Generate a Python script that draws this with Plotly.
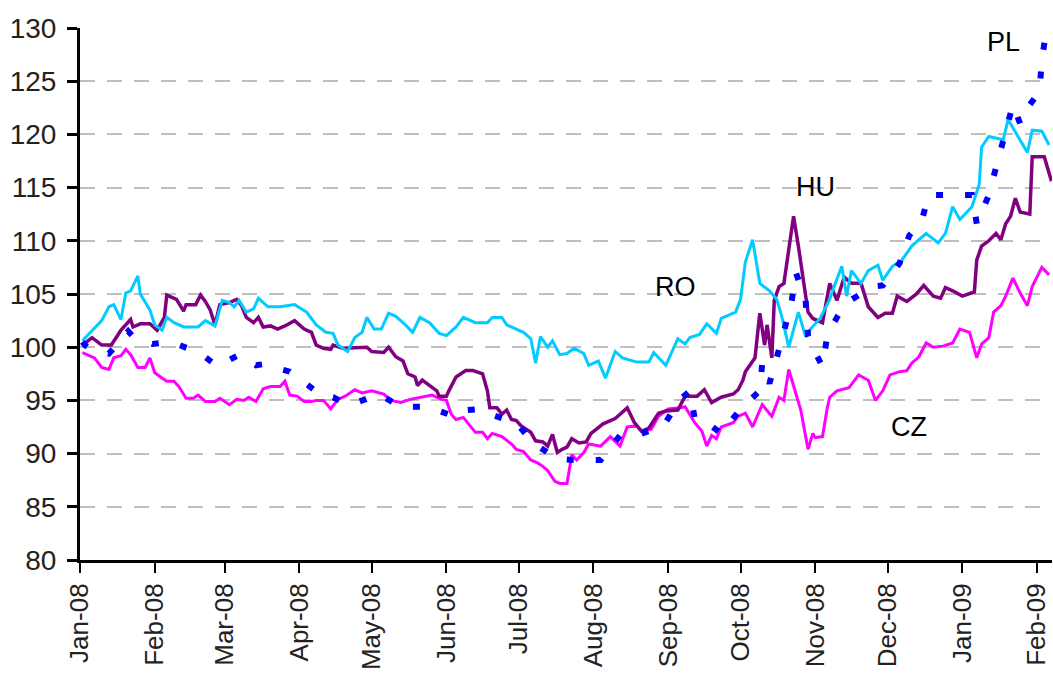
import plotly.graph_objects as go

# ---------------- data ----------------
ro_dates = ["2008-01-02","2008-01-10","2008-01-13","2008-01-15","2008-01-18","2008-01-20","2008-01-22","2008-01-25","2008-01-26","2008-01-30",
            "2008-02-01","2008-02-04","2008-02-06","2008-02-09","2008-02-13","2008-02-19","2008-02-22","2008-02-26","2008-02-29",
            "2008-03-03","2008-03-05","2008-03-07","2008-03-10","2008-03-13","2008-03-15","2008-03-19","2008-03-24","2008-03-30",
            "2008-04-04","2008-04-08","2008-04-12","2008-04-15","2008-04-17","2008-04-21","2008-04-24","2008-04-27","2008-04-29",
            "2008-05-02","2008-05-05","2008-05-08","2008-05-11","2008-05-15","2008-05-18","2008-05-21","2008-05-25","2008-05-29",
            "2008-06-01","2008-06-05","2008-06-08","2008-06-13","2008-06-18","2008-06-20","2008-06-24","2008-06-26","2008-06-29",
            "2008-07-03","2008-07-06","2008-07-08","2008-07-10","2008-07-13","2008-07-15","2008-07-18","2008-07-21","2008-07-24","2008-07-28","2008-07-30",
            "2008-08-03","2008-08-06","2008-08-10","2008-08-13","2008-08-19","2008-08-24","2008-08-26","2008-08-31",
            "2008-09-05","2008-09-08","2008-09-10","2008-09-14","2008-09-17","2008-09-21","2008-09-23","2008-09-29",
            "2008-10-01","2008-10-03","2008-10-06","2008-10-09","2008-10-13","2008-10-16","2008-10-18","2008-10-21","2008-10-25","2008-10-28","2008-10-30",
            "2008-11-03","2008-11-07","2008-11-08","2008-11-12","2008-11-14","2008-11-16","2008-11-20","2008-11-23","2008-11-27","2008-11-29",
            "2008-12-03","2008-12-07","2008-12-11","2008-12-17","2008-12-22","2008-12-25","2008-12-28","2008-12-31",
            "2009-01-05","2009-01-08","2009-01-09","2009-01-12","2009-01-18","2009-01-20","2009-01-23","2009-01-28","2009-01-30","2009-02-03","2009-02-06"]
ro_values = [100.6,102.5,103.8,104.0,102.6,105.1,105.3,106.7,105.0,103.5,
             102.1,101.6,102.8,102.3,101.9,101.9,102.5,102.0,104.4,
             104.2,103.8,104.4,103.3,103.6,104.6,103.8,103.8,104.0,
             103.3,102.1,101.4,101.3,100.2,99.6,100.9,101.4,102.8,
             101.7,101.7,103.2,102.9,102.1,101.4,102.8,102.3,101.3,
             101.1,101.9,102.8,102.3,102.3,102.8,102.8,102.1,101.8,
             101.4,100.8,98.5,101.0,100.0,100.6,99.3,99.4,99.9,99.4,98.3,
             98.7,97.1,99.6,99.0,98.6,98.6,99.5,98.3,
             100.8,100.3,100.9,101.2,102.2,101.3,102.7,103.3,
             104.5,108.0,110.1,106.0,105.3,104.5,103.0,100.0,103.3,101.0,101.7,
             102.7,104.5,105.2,107.6,104.8,107.2,106.0,107.2,107.7,106.3,
             107.6,108.2,109.5,110.7,109.8,110.7,113.2,112.0,
             113.2,115.3,118.8,119.8,119.5,121.4,120.2,118.3,120.4,120.3,119.0]

hu_dates = ["2008-01-02","2008-01-06","2008-01-10","2008-01-14","2008-01-18","2008-01-22","2008-01-23","2008-01-26","2008-01-30",
            "2008-02-02","2008-02-05","2008-02-06","2008-02-10","2008-02-13","2008-02-14","2008-02-18","2008-02-20","2008-02-22","2008-02-24","2008-02-26","2008-02-28",
            "2008-03-03","2008-03-06","2008-03-08","2008-03-10","2008-03-13","2008-03-15","2008-03-17","2008-03-20","2008-03-23","2008-03-26","2008-03-30",
            "2008-04-03","2008-04-06","2008-04-08","2008-04-11","2008-04-14","2008-04-15","2008-04-19","2008-04-25","2008-04-29",
            "2008-05-01","2008-05-06","2008-05-08","2008-05-11","2008-05-14","2008-05-16","2008-05-19","2008-05-20","2008-05-22","2008-05-25","2008-05-28","2008-05-29",
            "2008-06-01","2008-06-02","2008-06-05","2008-06-09","2008-06-12","2008-06-16","2008-06-18","2008-06-19","2008-06-22","2008-06-24","2008-06-26","2008-06-28","2008-06-30",
            "2008-07-02","2008-07-06","2008-07-08","2008-07-11","2008-07-13","2008-07-15","2008-07-17","2008-07-19","2008-07-21","2008-07-23","2008-07-26","2008-07-29","2008-07-31",
            "2008-08-05","2008-08-10","2008-08-15","2008-08-18","2008-08-21","2008-08-24","2008-08-28","2008-08-31",
            "2008-09-05","2008-09-08","2008-09-13","2008-09-16","2008-09-19","2008-09-23","2008-09-28","2008-09-30",
            "2008-10-02","2008-10-03","2008-10-07","2008-10-09","2008-10-11","2008-10-12","2008-10-14","2008-10-15","2008-10-17","2008-10-19","2008-10-23","2008-10-25","2008-10-27","2008-10-29","2008-10-31",
            "2008-11-04","2008-11-07","2008-11-10","2008-11-13","2008-11-16","2008-11-20","2008-11-23","2008-11-27","2008-11-30",
            "2008-12-03","2008-12-05","2008-12-09","2008-12-13","2008-12-16","2008-12-20","2008-12-23","2008-12-25","2008-12-28",
            "2009-01-01","2009-01-06","2009-01-07","2009-01-09","2009-01-12","2009-01-15","2009-01-17","2009-01-19","2009-01-21","2009-01-23","2009-01-25","2009-01-29","2009-01-30",
            "2009-02-01","2009-02-04","2009-02-07"]
hu_values = [100.2,100.9,100.2,100.2,101.6,102.6,101.9,102.2,102.2,
             101.6,102.8,104.9,104.5,103.4,104.0,104.0,104.9,104.3,103.5,102.1,104.0,
             104.2,104.5,103.9,102.8,102.3,102.8,101.9,102.0,101.7,102.0,102.5,
             101.7,101.4,100.2,99.9,99.8,100.2,99.9,100.0,100.0,
             99.6,99.5,100.0,99.1,98.7,97.5,97.2,96.4,96.9,96.4,95.9,95.4,
             95.4,95.9,97.2,97.8,97.8,97.5,95.9,94.3,94.3,93.7,94.1,93.2,93.1,
             92.6,92.0,91.2,91.1,90.7,91.8,90.1,90.4,90.6,91.4,91.0,91.1,91.9,
             92.8,93.3,94.3,92.9,92.1,92.4,93.8,94.0,
             94.1,95.4,95.4,96.0,94.8,95.3,95.6,96.0,
             96.9,97.7,99.0,103.2,100.2,102.1,99.0,104.4,105.7,106.0,112.3,109.5,106.6,103.3,102.7,
             102.3,106.0,104.4,106.6,106.0,106.0,103.8,102.8,103.2,
             103.2,104.8,104.3,105.0,105.8,104.8,104.6,105.6,105.3,
             104.8,105.2,108.2,109.5,110.0,110.7,110.1,111.6,112.3,114.0,112.7,112.5,117.9,
             117.9,117.9,115.6]

cz_dates = ["2008-01-02","2008-01-04","2008-01-07","2008-01-10","2008-01-13","2008-01-15","2008-01-18","2008-01-20","2008-01-22","2008-01-25","2008-01-28","2008-01-30",
            "2008-02-01","2008-02-04","2008-02-06","2008-02-09","2008-02-11","2008-02-14","2008-02-17","2008-02-19","2008-02-22","2008-02-26","2008-02-28",
            "2008-03-03","2008-03-06","2008-03-09","2008-03-11","2008-03-14","2008-03-17","2008-03-20","2008-03-24","2008-03-26","2008-03-28","2008-03-31",
            "2008-04-03","2008-04-06","2008-04-08","2008-04-11","2008-04-14","2008-04-17","2008-04-20","2008-04-24","2008-04-27",
            "2008-05-01","2008-05-06","2008-05-09","2008-05-13","2008-05-17","2008-05-21","2008-05-26","2008-05-30",
            "2008-06-01","2008-06-03","2008-06-05","2008-06-08","2008-06-10","2008-06-13","2008-06-16","2008-06-18","2008-06-20","2008-06-24","2008-06-28","2008-06-30",
            "2008-07-03","2008-07-06","2008-07-09","2008-07-11","2008-07-13","2008-07-16","2008-07-18","2008-07-21","2008-07-22","2008-07-23","2008-07-25","2008-07-28","2008-07-30",
            "2008-08-04","2008-08-08","2008-08-12","2008-08-15","2008-08-19","2008-08-21","2008-08-25","2008-08-28",
            "2008-09-01","2008-09-06","2008-09-08","2008-09-12","2008-09-15","2008-09-17","2008-09-19","2008-09-21","2008-09-23","2008-09-28","2008-09-30",
            "2008-10-03","2008-10-06","2008-10-10","2008-10-12","2008-10-14","2008-10-17","2008-10-19","2008-10-21","2008-10-23","2008-10-26","2008-10-29","2008-10-31",
            "2008-11-01","2008-11-04","2008-11-06","2008-11-07","2008-11-10","2008-11-15","2008-11-19","2008-11-23","2008-11-26","2008-11-29",
            "2008-12-02","2008-12-06","2008-12-09","2008-12-11","2008-12-14","2008-12-17","2008-12-20","2008-12-24","2008-12-28","2008-12-31",
            "2009-01-04","2009-01-07","2009-01-09","2009-01-12","2009-01-14","2009-01-17","2009-01-19","2009-01-22","2009-01-25","2009-01-28","2009-01-30","2009-02-03","2009-02-06"]
cz_values = [99.5,99.3,99.0,98.1,97.9,99.0,99.2,99.8,99.3,98.1,98.1,99.0,
             97.6,97.1,96.8,96.8,96.3,95.2,95.2,95.5,94.9,94.9,95.2,
             94.6,95.1,95.0,95.3,94.9,96.1,96.3,96.3,96.8,95.5,95.4,
             94.9,94.9,95.0,95.0,94.2,95.1,95.4,96.0,95.7,
             95.9,95.6,95.0,94.8,95.1,95.3,95.5,95.1,
             95.0,93.7,93.2,93.4,92.8,92.0,92.0,91.4,91.9,91.6,90.9,90.4,
             90.2,89.4,89.1,88.8,88.4,87.4,87.2,87.2,88.5,89.9,89.4,90.1,90.9,
             90.7,91.6,90.7,92.5,92.6,92.1,92.3,93.5,
             94.2,94.3,94.4,92.9,92.1,90.7,91.7,91.4,92.5,92.9,93.5,
             93.8,92.5,94.6,94.0,93.5,95.3,95.0,97.9,96.3,94.1,90.4,91.9,
             91.5,91.6,94.3,95.3,95.9,96.2,97.4,96.9,95.0,95.9,
             97.4,97.7,97.8,98.5,99.1,100.4,100.0,100.1,100.4,101.7,
             101.4,99.0,100.3,100.9,103.3,103.9,104.8,106.5,105.1,103.9,105.7,107.5,106.8]

pl_dates = ["2008-01-02","2008-01-03","2008-01-07","2008-01-13","2008-01-21","2008-01-23","2008-01-31",
            "2008-02-08","2008-02-20","2008-02-27","2008-03-07","2008-03-14","2008-03-17","2008-03-28",
            "2008-04-10","2008-04-15","2008-04-21","2008-04-26","2008-05-04","2008-05-13","2008-05-24",
            "2008-06-03","2008-06-05","2008-06-15","2008-06-19","2008-06-27","2008-06-30",
            "2008-07-07","2008-07-09","2008-07-17","2008-07-24","2008-08-04","2008-08-12","2008-08-20","2008-08-30",
            "2008-09-06","2008-09-10","2008-09-12","2008-09-16","2008-09-23",
            "2008-10-01","2008-10-09","2008-10-10","2008-10-13","2008-10-16","2008-10-22","2008-10-24","2008-10-28","2008-10-29","2008-10-31",
            "2008-11-04","2008-11-06","2008-11-10","2008-11-14","2008-11-25","2008-11-29",
            "2008-12-06","2008-12-10","2008-12-15","2008-12-18","2008-12-26",
            "2009-01-05","2009-01-07","2009-01-12","2009-01-15","2009-01-22","2009-01-25","2009-01-29",
            "2009-02-02","2009-02-03","2009-02-05"]
pl_values = [100.5,100.2,99.6,99.4,101.5,101.0,100.3,
             100.5,99.4,98.2,99.3,98.3,98.4,97.7,
             95.5,95.3,94.6,94.9,95.6,94.4,94.4,
             93.6,94.0,94.2,93.7,93.1,92.9,
             91.0,90.7,89.5,89.4,89.4,91.7,91.8,92.6,
             95.1,95.9,93.3,93.1,91.9,
             94.2,95.9,98.5,96.6,99.0,104.0,107.0,104.4,101.1,99.9,
             98.2,101.1,102.8,104.2,105.7,105.8,
             107.9,110.5,111.7,114.3,114.3,
             114.3,111.6,114.3,116.9,122.8,121.0,122.8,
             124.0,127.0,130.0]

y_ticks = [80, 85, 90, 95, 100, 105, 110, 115, 120, 125, 130]
labels = ["RO", "HU", "PL", "CZ"]
label_dates = ["2008-09-04", "2008-11-01", "2009-01-18", "2008-12-10"]
label_values = [105.65, 115.05, 128.7, 92.5]

# ---------------- figure ----------------
FONT = "Liberation Sans, Arial, sans-serif"
fig = go.Figure()
fig.add_trace(go.Scatter(x=cz_dates, y=cz_values, mode="lines", name="CZ",
                         line=dict(color="#FF00FF", width=3)))
fig.add_trace(go.Scatter(x=hu_dates, y=hu_values, mode="lines", name="HU",
                         line=dict(color="#800080", width=3.5)))
fig.add_trace(go.Scatter(x=ro_dates, y=ro_values, mode="lines", name="RO",
                         line=dict(color="#00CCFF", width=3)))
fig.add_trace(go.Scatter(x=pl_dates, y=pl_values, mode="lines", name="PL",
                         line=dict(color="#0000FF", width=6, dash="7px,22px")))

for t, d, v in zip(labels, label_dates, label_values):
    fig.add_annotation(x=d, y=v, text=t, showarrow=False,
                       font=dict(family=FONT, size=27, color="#000000"))

fig.update_layout(
    width=1053, height=673,
    margin=dict(l=80, r=1, t=28, b=113, autoexpand=False),
    paper_bgcolor="white", plot_bgcolor="white",
    showlegend=False,
    font=dict(family=FONT, color="#222222"),
)
fig.update_xaxes(
    type="date", automargin=False,
    range=["2008-01-01", "2009-02-07 05:00"],
    tick0="2008-01-01", dtick="M1", tickformat="%b-%y",
    tickangle=-90,
    tickfont=dict(family=FONT, size=26, color="#222222"),
    showgrid=False, zeroline=False,
    showline=True, linecolor="black", linewidth=3,
    ticks="outside", ticklen=10, tickwidth=2, tickcolor="black",
)
fig.update_yaxes(
    automargin=False,
    range=[80, 130], tickvals=y_ticks,
    tickfont=dict(family=FONT, size=28, color="#222222"),
    ticklabelstandoff=5,
    showgrid=True, gridcolor="#BFBFBF", gridwidth=2, griddash="15px,12px",
    zeroline=False,
    showline=True, linecolor="black", linewidth=3,
    ticks="outside", ticklen=10, tickwidth=3, tickcolor="black",
)

fig.write_html("out.html", config={"displayModeBar": False},
               post_script="document.body.style.margin='0px';document.body.style.padding='0px';")
